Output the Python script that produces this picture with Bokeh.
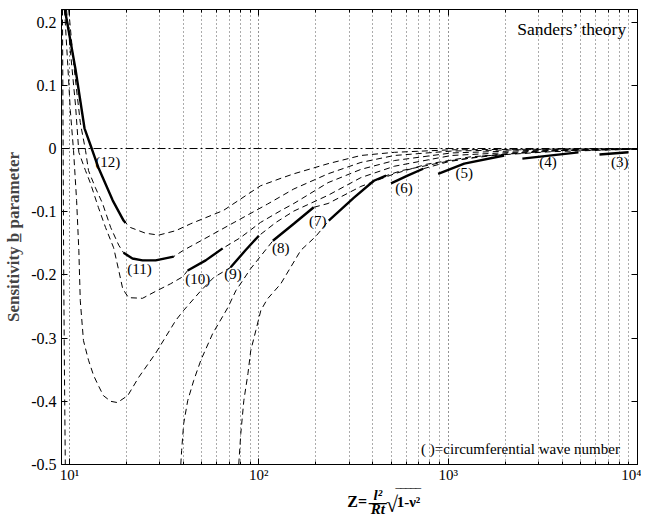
from bokeh.plotting import figure
from bokeh.layouts import column
from bokeh.models import (Range1d, LogAxis, LinearAxis, FixedTicker, Label, Span,
                          CustomJSTickFormatter)
from bokeh.embed import file_html
from bokeh.resources import INLINE

# ---------------- data ----------------
# full (dashed) curves b(Z) for each circumferential wave number n
n12_z = [9.45, 10.76, 12.0, 13.1, 14.2, 16.9, 19.3, 21.0, 25.2, 29.6, 36.4, 43.7, 65, 102, 131, 153, 232, 346, 520, 1040, 3500, 10000]
n12_b = [0.22, 0.125, 0.032, 0.0, -0.030, -0.082, -0.114, -0.125, -0.134, -0.137, -0.130, -0.119, -0.098, -0.059, -0.047, -0.040, -0.024, -0.011, -0.006, -0.002, -0.001, 0.0]

n11_z = [9.9, 10.5, 11.4, 12.15, 12.6, 13.7, 14.95, 16.5, 18.2, 19.3, 21.5, 24.3, 28.5, 35.5, 40.0, 49.4, 74, 111, 153, 232, 346, 520, 1040, 3500, 10000]
n11_b = [0.22, 0.136, 0.041, -0.003, -0.035, -0.062, -0.087, -0.125, -0.153, -0.165, -0.174, -0.177, -0.177, -0.171, -0.161, -0.146, -0.117, -0.088, -0.064, -0.040, -0.022, -0.011, -0.004, -0.001, 0.0]

n10_z = [9.64, 10.1, 10.76, 11.2, 12.15, 12.9, 14.2, 15.5, 17.1, 18.2, 19.1, 20.5, 24.3, 28.5, 34.2, 39.6, 42.1, 52.4, 64.4, 80, 102, 131, 153, 232, 346, 520, 1040, 3500, 10000]
n10_b = [0.22, 0.155, 0.068, -0.006, -0.035, -0.055, -0.093, -0.125, -0.157, -0.193, -0.222, -0.236, -0.237, -0.226, -0.214, -0.203, -0.193, -0.177, -0.158, -0.141, -0.117, -0.098, -0.087, -0.054, -0.033, -0.019, -0.007, -0.002, -0.0005]

n9_z = [9.41, 9.76, 10.1, 10.5, 10.9, 11.2, 11.4, 11.85, 12.6, 13.4, 14.2, 15.1, 16.5, 17.9, 20.3, 23.2, 28.5, 36.4, 40.1, 49.4, 57.8, 71, 85, 100, 123, 153, 232, 346, 520, 1040, 3500, 10000]
n9_b = [0.22, 0.139, 0.060, -0.003, -0.082, -0.161, -0.241, -0.304, -0.335, -0.359, -0.375, -0.391, -0.400, -0.402, -0.391, -0.362, -0.324, -0.272, -0.256, -0.225, -0.204, -0.188, -0.161, -0.138, -0.117, -0.099, -0.074, -0.046, -0.028, -0.011, -0.003, -0.0005]

n8_z = [38.7, 39.1, 40.1, 42.1, 45.3, 49.4, 57, 68.5, 75.6, 90.6, 118.6, 153, 195, 232, 346, 520, 766, 1320, 3500, 10000]
n8_b = [-0.50, -0.478, -0.435, -0.399, -0.367, -0.335, -0.293, -0.252, -0.225, -0.190, -0.146, -0.119, -0.093, -0.087, -0.060, -0.040, -0.025, -0.013, -0.005, -0.001]

n7_z = [78.3, 80.3, 83.3, 87.6, 90.6, 96.4, 102.5, 111, 130.6, 166.6, 200, 234, 317, 405, 470, 566, 1040, 1900, 4000, 10000]
n7_b = [-0.50, -0.451, -0.399, -0.356, -0.320, -0.288, -0.256, -0.238, -0.214, -0.161, -0.139, -0.114, -0.078, -0.051, -0.043, -0.035, -0.019, -0.0095, -0.003, -0.001]

n6_z = [738, 1000, 1500, 3000, 10000]
n6_b = [-0.032, -0.021, -0.012, -0.004, -0.001]

steep_z = [9.18, 9.22, 9.27, 9.32, 9.40, 9.50]
steep_b = [0.22, 0.10, -0.05, -0.20, -0.35, -0.50]

dashed_z = [n12_z, n11_z, n10_z, n9_z, n8_z, n7_z, n6_z, steep_z]
dashed_b = [n12_b, n11_b, n10_b, n9_b, n8_b, n7_b, n6_b, steep_b]

# critical (solid) portions of each mode
s12_z = [9.45, 10.76, 12.0, 13.1, 14.2, 16.9, 19.3, 19.8]
s12_b = [0.22, 0.125, 0.032, 0.0, -0.030, -0.082, -0.114, -0.118]
s11_z = [19.3, 21.5, 24.3, 28.5, 35.5]
s11_b = [-0.165, -0.174, -0.177, -0.177, -0.171]
s10_z = [42.1, 52.4, 64.4]
s10_b = [-0.193, -0.177, -0.158]
s9_z = [71, 85, 100]
s9_b = [-0.188, -0.161, -0.138]
s8_z = [118.6, 153, 195]
s8_b = [-0.146, -0.119, -0.093]
s7_z = [234, 317, 405, 470]
s7_b = [-0.114, -0.078, -0.051, -0.043]
s6_z = [499, 610, 738]
s6_b = [-0.055, -0.043, -0.032]
s5_z = [885, 1216, 1977]
s5_b = [-0.040, -0.024, -0.011]
s4_z = [2466, 4877]
s4_b = [-0.016, -0.006]
s3_z = [6296, 8955]
s3_b = [-0.0095, -0.006]

solid_z = [s12_z, s11_z, s10_z, s9_z, s8_z, s7_z, s6_z, s5_z, s4_z, s3_z]
solid_b = [s12_b, s11_b, s10_b, s9_b, s8_b, s7_b, s6_b, s5_b, s4_b, s3_b]

mode_labels = ["(12)", "(11)", "(10)", "(9)", "(8)", "(7)", "(6)", "(5)", "(4)", "(3)"]
label_z = [15.9, 23.4, 47.6, 73, 130.6, 205, 584, 1217, 3370, 8050]
label_b = [-0.022, -0.190, -0.206, -0.198, -0.158, -0.115, -0.063, -0.038, -0.022, -0.022]

y_ticks = [-0.5, -0.4, -0.3, -0.2, -0.1, 0, 0.1, 0.2]
x_ticks = [10, 100, 1000, 10000]

# ---------------- main figure ----------------
SERIF = "Liberation Serif"
X0 = 10 ** (1 - 8 / 189)
W = 641
PH = 485

p = figure(width=W, height=PH, x_axis_type="log",
           x_range=Range1d(X0, 10000), y_range=Range1d(-0.5, 0.22),
           output_backend="svg", toolbar_location=None,
           min_border_left=61, min_border_right=4, min_border_top=9, min_border_bottom=20)
p.background_fill_color = "white"
p.border_fill_color = "white"
p.outline_line_color = "black"
p.outline_line_width = 1

minor = [m * 10 ** e for e in range(1, 4) for m in range(2, 10)]
xt = FixedTicker(ticks=x_ticks, minor_ticks=minor)
yt = FixedTicker(ticks=y_ticks)

xfmt = CustomJSTickFormatter(code="""
const s = {1:'\u00b9', 2:'\u00b2', 3:'\u00b3', 4:'\u2074'};
return '10' + s[Math.round(Math.log10(tick))];
""")
yfmt = CustomJSTickFormatter(code="return Math.abs(tick) < 1e-9 ? '0' : tick.toFixed(1);")
blank = CustomJSTickFormatter(code="return '';")

xa = p.xaxis[0]
xa.ticker = xt
xa.formatter = xfmt
ya = p.yaxis[0]
ya.ticker = yt
ya.formatter = yfmt
ya.axis_label = "Sensitivity b\u0332 parameter"
ya.axis_label_text_font = SERIF
ya.axis_label_text_font_size = "17px"
ya.axis_label_text_font_style = "bold"
ya.axis_label_standoff = 5

for ax in (xa, ya):
    ax.major_label_text_font = SERIF
    ax.major_label_text_color = "black"
    ax.axis_line_color = "black"
    ax.major_tick_line_color = "black"
    ax.minor_tick_line_color = "black"
    ax.major_tick_in = 6
    ax.major_tick_out = 0
    ax.minor_tick_in = 3
    ax.minor_tick_out = 0
xa.major_label_text_font_size = "15px"
xa.major_label_standoff = 2
ya.major_label_text_font_size = "16px"
ya.major_label_standoff = 5

ra = LinearAxis(ticker=yt, formatter=blank, major_tick_in=6, major_tick_out=0,
                minor_tick_in=0, minor_tick_out=0, major_label_standoff=0,
                axis_line_color="black", major_label_text_font_size="1px")
ta = LogAxis(ticker=xt, formatter=blank, major_tick_in=6, major_tick_out=0,
             minor_tick_in=3, minor_tick_out=0, major_label_standoff=0,
             axis_line_color="black", major_label_text_font_size="1px")
p.add_layout(ra, "right")
p.add_layout(ta, "above")

p.ygrid.visible = False
p.xgrid.grid_line_color = "black"
p.xgrid.grid_line_dash = "1 3"
p.xgrid.grid_line_alpha = 0.85
p.xgrid.minor_grid_line_color = "black"
p.xgrid.minor_grid_line_dash = "1 3"
p.xgrid.minor_grid_line_alpha = 0.65

p.add_layout(Span(location=0, dimension="width", line_color="black",
                  line_width=1, line_dash="8 3 2 3"))

for z, b in zip(dashed_z, dashed_b):
    p.line(z, b, line_color="black", line_width=1, line_dash="6 4")
for z, b in zip(solid_z, solid_b):
    p.line(z, b, line_color="black", line_width=2.4)

for t, z, b in zip(mode_labels, label_z, label_b):
    p.add_layout(Label(x=z, y=b, text=t, text_align="center", text_baseline="middle",
                       text_font=SERIF, text_font_size="15px", text_color="black"))


def px2x(px):
    return 10 ** (1 + (px - 69) / 189)


def py2y(py):
    return (148 - py) / 632


p.add_layout(Label(x=px2x(626), y=py2y(28), text="Sanders\u2019 theory", text_align="right",
                   text_baseline="middle", text_font=SERIF, text_font_size="17.5px",
                   text_color="black"))
p.add_layout(Label(x=px2x(420), y=py2y(448), text="( )=circumferential wave number",
                   text_align="left", text_baseline="middle", text_font=SERIF,
                   text_font_size="15px", text_color="black"))

# ---------------- x-axis title (formula) strip ----------------
QB = 517
q = figure(width=W, height=QB - PH, x_range=Range1d(0, W), y_range=Range1d(QB, PH),
           output_backend="svg", toolbar_location=None,
           x_axis_location=None, y_axis_location=None,
           min_border_left=0, min_border_right=0, min_border_top=0, min_border_bottom=0)
q.outline_line_color = None
q.grid.visible = False
q.background_fill_color = "white"
q.border_fill_color = "white"


def flabel(x, y, text, size="15px", style="bold", align="left", baseline="middle"):
    q.add_layout(Label(x=x, y=y, text=text, text_align=align,
                       text_baseline=baseline, text_font=SERIF, text_font_size=size,
                       text_font_style=style, text_color="black"))


flabel(318, 501, "Z=", size="16px")
flabel(352, 494.5, "l\u00b2", style="bold italic", align="center")
flabel(352, 501, "\u2014", size="18px", align="center")
flabel(352, 508.5, "Rt", style="bold italic", align="center")
flabel(361, 504, "\u221a", size="22px", style="normal")
flabel(373, 501, "1-\u03bd\u00b2")
flabel(372, 486, "\u203e\u203e\u203e\u203e\u203e", size="15px", baseline="top")

layout = column(p, q, spacing=0)

html = file_html(layout, INLINE)
with open("out.html", "w", encoding="utf-8") as f:
    f.write(html)
